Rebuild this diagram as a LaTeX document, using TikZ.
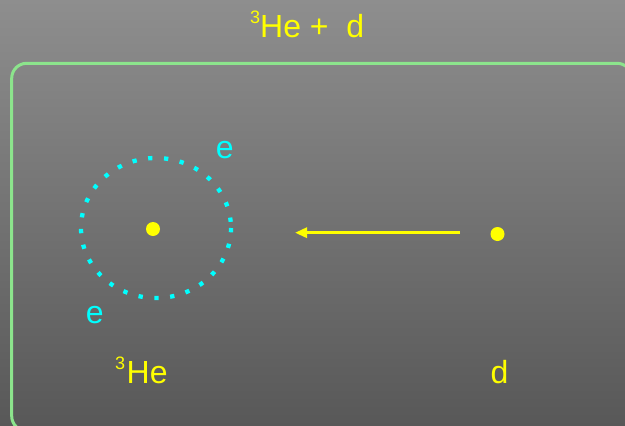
\documentclass[tikz,border=0pt]{standalone}
\usepackage{fontspec}
\setmainfont{Liberation Sans}
\usetikzlibrary{arrows.meta}
\definecolor{bgtop}{RGB}{142,142,142}
\definecolor{bgbot}{RGB}{88,88,88}
\definecolor{boxgreen}{RGB}{140,228,140}
\definecolor{ecyan}{RGB}{0,255,255}
\definecolor{pyellow}{RGB}{255,255,0}
\newcommand{\isot}[1]{\raisebox{14pt}{\fontsize{18}{18}\selectfont #1}}
\begin{document}
\begin{tikzpicture}[x=1pt,y=-1pt,
  lbl/.style={inner sep=0pt, anchor=base west, font=\fontsize{32}{38}\selectfont},
  particle/.style={circle, fill=pyellow, inner sep=0pt, minimum size=14pt},
  orbit/.style={ecyan, line width=4.3pt, dash pattern=on 4.3pt off 11.6pt},
  framebox/.style={draw=boxgreen, line width=3pt, rounded corners=15pt},
  motion/.style={pyellow, line width=3pt, -{Triangle[length=12pt,width=10pt]}}]
\useasboundingbox (0,0) rectangle (625,426);
\clip (0,0) rectangle (625,426);
\shade[top color=bgtop,bottom color=bgbot] (0,0) rectangle (625,426);
% title
\node[lbl, text=pyellow] (title) at (250,37) {\isot{3}He +\ \ d};
% frame
\draw[framebox] (11.7,63.3) rectangle (632,431);
% orbit and nucleus
\draw[orbit] (156,228) ellipse [x radius=75, y radius=70];
\node[particle] (he) at (153,229) {};
\node[lbl, text=ecyan] (e1) at (215.7,158) {e};
\node[lbl, text=ecyan] (e2) at (85.7,323) {e};
% deuteron
\node[particle] (d) at (497.5,234) {};
\coordinate (arrowstart) at (460,232.7);
\coordinate (arrowend) at (295,232.7);
\draw[motion] (arrowstart) -- (arrowend);
% labels
\node[lbl, text=pyellow] (helbl) at (115,383) {\isot{3}\hspace{1.5pt}He};
\node[lbl, text=pyellow] (dlbl) at (490.5,383) {d};
\end{tikzpicture}
\end{document}
